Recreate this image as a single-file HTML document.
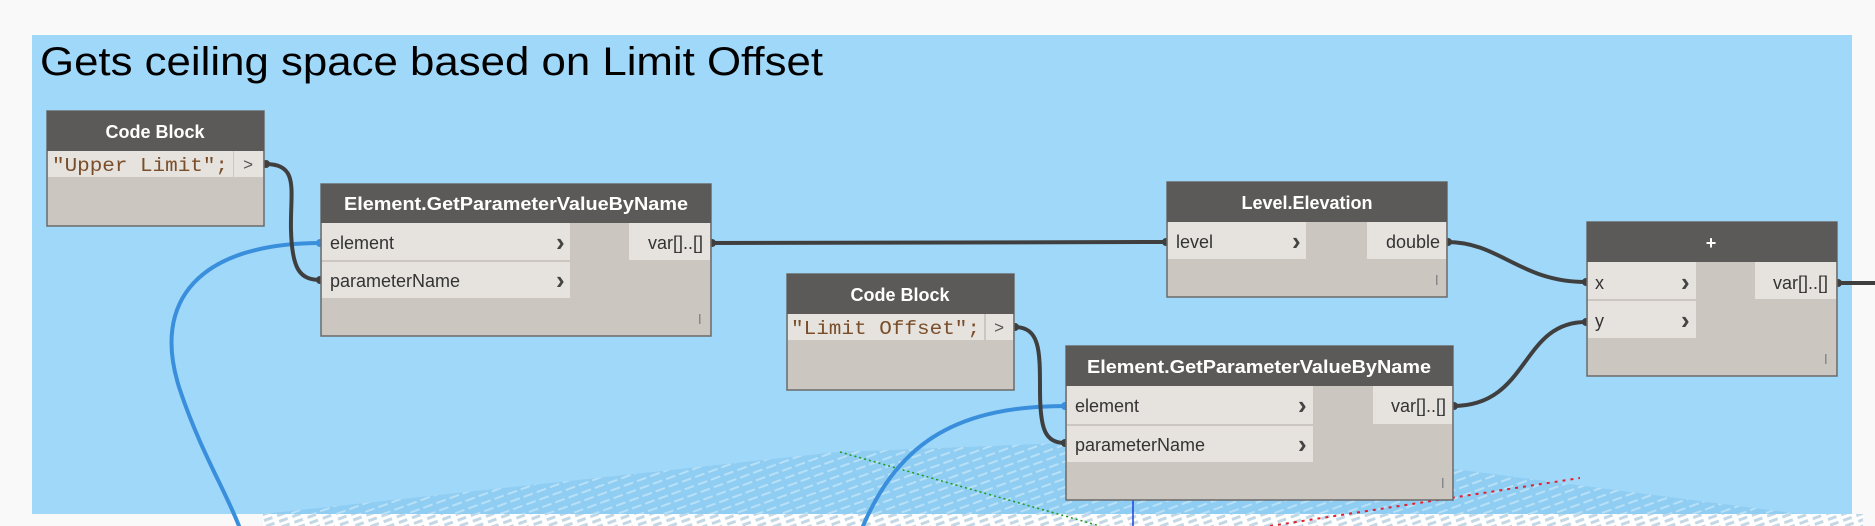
<!DOCTYPE html>
<html><head><meta charset="utf-8"><style>
html,body{margin:0;padding:0;background:#f9f9f9;}
svg{display:block;}
</style></head><body>
<svg width="1875" height="526" viewBox="0 0 1875 526" xmlns="http://www.w3.org/2000/svg" font-family="Liberation Sans, sans-serif">
<defs>
<pattern id="gp" width="14" height="8" patternUnits="userSpaceOnUse" patternTransform="rotate(-20)">
<rect width="14" height="8" fill="#8fcdf2"/>
<rect x="0" y="5" width="10" height="2" fill="#b8e0f7"/>
</pattern>
<pattern id="gp2" width="14" height="6" patternUnits="userSpaceOnUse" patternTransform="rotate(-20)">
<rect width="14" height="6" fill="#ffffff"/>
<rect x="0" y="2" width="9" height="3" fill="#c3d8e4"/>
</pattern>
</defs>
<rect x="0" y="0" width="1875" height="526" fill="#f9f9f9"/>
<rect x="32" y="35" width="1820" height="479" fill="#a0d8fa"/>
<polygon points="263,514 837,452 1090,442 1400,462 1800,514" fill="url(#gp)"/>
<rect x="263" y="514" width="1600" height="12" fill="url(#gp2)"/>
<line x1="1133" y1="480" x2="1133" y2="526" stroke="#2040e0" stroke-width="1.5"/>
<path d="M840 452 L1100 526" stroke="#1a9a1a" stroke-width="1.5" stroke-dasharray="2,3"/>
<path d="M1270 526 L1580 478" stroke="#e02030" stroke-width="2" stroke-dasharray="3,5"/>
<text x="40" y="75" font-size="40" fill="#000" font-weight="normal" textLength="783" lengthAdjust="spacingAndGlyphs">Gets ceiling space based on Limit Offset</text>

<g fill="none" stroke-linecap="round">
<path d="M321 243 C200 243 150 300 180 390 C200 450 225 490 239 526" stroke="#3a8fdc" stroke-width="4"/>
<path d="M1066 406 C960 406 900 440 863 526" stroke="#3a8fdc" stroke-width="4"/>
<path d="M265 164 C300 164 290 190 291 230 C292 270 300 280 321 280" stroke="#3f3f3f" stroke-width="4"/>
<path d="M711 243 L1167 242" stroke="#3f3f3f" stroke-width="4"/>
<path d="M1447 242 C1500 242 1520 282 1586 282" stroke="#3f3f3f" stroke-width="4"/>
<path d="M1014 327 C1040 327 1040 350 1040 390 C1040 430 1045 443 1066 443" stroke="#3f3f3f" stroke-width="4"/>
<path d="M1453 406 C1530 406 1520 322 1586 322" stroke="#3f3f3f" stroke-width="4"/>
<path d="M1837 283 L1875 283" stroke="#3f3f3f" stroke-width="4"/>
</g>
<g fill="#3f3f3f">
<circle cx="266" cy="164" r="4"/><circle cx="320" cy="280" r="4"/><circle cx="712" cy="243" r="4"/><circle cx="1166" cy="242" r="4"/>
<circle cx="1448" cy="242" r="4"/><circle cx="1586" cy="282" r="4"/><circle cx="1015" cy="327" r="4"/><circle cx="1065" cy="443" r="4"/>
<circle cx="1454" cy="406" r="4"/><circle cx="1586" cy="322" r="4"/><circle cx="1838" cy="283" r="4"/>
</g>
<circle cx="320" cy="243" r="4" fill="#3a8fdc"/><circle cx="1065" cy="406" r="4" fill="#3a8fdc"/>

<g font-size="18" fill="#333">
<rect x="47" y="111" width="217" height="115" fill="#cbc6bf" stroke="#6a6a6a" stroke-width="1.5"/>
<rect x="47" y="111" width="217" height="40" fill="#5c5a58"/>
<text x="155" y="138" font-size="18" font-weight="bold" fill="#fff" text-anchor="middle">Code Block</text>
<rect x="48" y="151" width="185" height="26" fill="#e6e3de"/>
<rect x="234" y="151" width="29" height="26" fill="#e6e3de"/>
<text x="52" y="171" style="font-family:'Liberation Mono',monospace" font-size="19" fill="#7a4e2a" textLength="176" lengthAdjust="spacingAndGlyphs">"Upper Limit";</text>
<text x="243" y="170" style="font-family:'Liberation Mono',monospace" font-size="17" fill="#555">&gt;</text>

<rect x="321" y="184" width="390" height="152" fill="#cbc6bf" stroke="#6a6a6a" stroke-width="1.5"/>
<rect x="321" y="184" width="390" height="39" fill="#5c5a58"/>
<text x="516" y="210" font-size="18" font-weight="bold" fill="#fff" text-anchor="middle" textLength="344" lengthAdjust="spacingAndGlyphs">Element.GetParameterValueByName</text>
<rect x="322" y="223" width="248" height="37" fill="#e6e3de"/>
<rect x="322" y="262" width="248" height="36" fill="#e6e3de"/>
<rect x="629" y="223" width="81" height="37" fill="#e6e3de"/>
<text x="330" y="249">element</text>
<text x="330" y="287">parameterName</text>
<text x="556" y="251" font-size="26" font-weight="bold" fill="#444">›</text>
<text x="556" y="289" font-size="26" font-weight="bold" fill="#444">›</text>
<text x="703" y="249" text-anchor="end">var[]..[]</text>
<rect x="699" y="314" width="1.5" height="10" fill="#888"/>

<rect x="1167" y="182" width="280" height="115" fill="#cbc6bf" stroke="#6a6a6a" stroke-width="1.5"/>
<rect x="1167" y="182" width="280" height="40" fill="#5c5a58"/>
<text x="1307" y="209" font-size="18" font-weight="bold" fill="#fff" text-anchor="middle">Level.Elevation</text>
<rect x="1168" y="222" width="138" height="37" fill="#e6e3de"/>
<rect x="1367" y="222" width="79" height="37" fill="#e6e3de"/>
<text x="1176" y="248">level</text>
<text x="1292" y="250" font-size="26" font-weight="bold" fill="#444">›</text>
<text x="1440" y="248" text-anchor="end">double</text>
<rect x="1436" y="275" width="1.5" height="10" fill="#888"/>

<rect x="787" y="274" width="227" height="116" fill="#cbc6bf" stroke="#6a6a6a" stroke-width="1.5"/>
<rect x="787" y="274" width="227" height="40" fill="#5c5a58"/>
<text x="900" y="301" font-size="18" font-weight="bold" fill="#fff" text-anchor="middle">Code Block</text>
<rect x="788" y="314" width="196" height="26" fill="#e6e3de"/>
<rect x="986" y="314" width="27" height="26" fill="#e6e3de"/>
<text x="791" y="334" style="font-family:'Liberation Mono',monospace" font-size="19" fill="#7a4e2a" textLength="189" lengthAdjust="spacingAndGlyphs">"Limit Offset";</text>
<text x="994" y="333" style="font-family:'Liberation Mono',monospace" font-size="17" fill="#555">&gt;</text>

<rect x="1066" y="346" width="387" height="154" fill="#cbc6bf" stroke="#6a6a6a" stroke-width="1.5"/>
<rect x="1066" y="346" width="387" height="40" fill="#5c5a58"/>
<text x="1259" y="373" font-size="18" font-weight="bold" fill="#fff" text-anchor="middle" textLength="344" lengthAdjust="spacingAndGlyphs">Element.GetParameterValueByName</text>
<rect x="1067" y="386" width="246" height="38" fill="#e6e3de"/>
<rect x="1067" y="426" width="246" height="36" fill="#e6e3de"/>
<rect x="1373" y="386" width="79" height="38" fill="#e6e3de"/>
<text x="1075" y="412">element</text>
<text x="1075" y="451">parameterName</text>
<text x="1298" y="414" font-size="26" font-weight="bold" fill="#444">›</text>
<text x="1298" y="453" font-size="26" font-weight="bold" fill="#444">›</text>
<text x="1446" y="412" text-anchor="end">var[]..[]</text>
<rect x="1442" y="478" width="1.5" height="10" fill="#888"/>

<rect x="1587" y="222" width="250" height="154" fill="#cbc6bf" stroke="#6a6a6a" stroke-width="1.5"/>
<rect x="1587" y="222" width="250" height="40" fill="#5c5a58"/>
<text x="1711" y="249" font-size="18" font-weight="bold" fill="#fff" text-anchor="middle">+</text>
<rect x="1588" y="262" width="108" height="37" fill="#e6e3de"/>
<rect x="1588" y="301" width="108" height="37" fill="#e6e3de"/>
<rect x="1755" y="262" width="81" height="37" fill="#e6e3de"/>
<text x="1595" y="289">x</text>
<text x="1595" y="327">y</text>
<text x="1681" y="291" font-size="26" font-weight="bold" fill="#444">›</text>
<text x="1681" y="329" font-size="26" font-weight="bold" fill="#444">›</text>
<text x="1828" y="289" text-anchor="end">var[]..[]</text>
<rect x="1825" y="354" width="1.5" height="10" fill="#888"/>
</g>
</svg>
</body></html>
